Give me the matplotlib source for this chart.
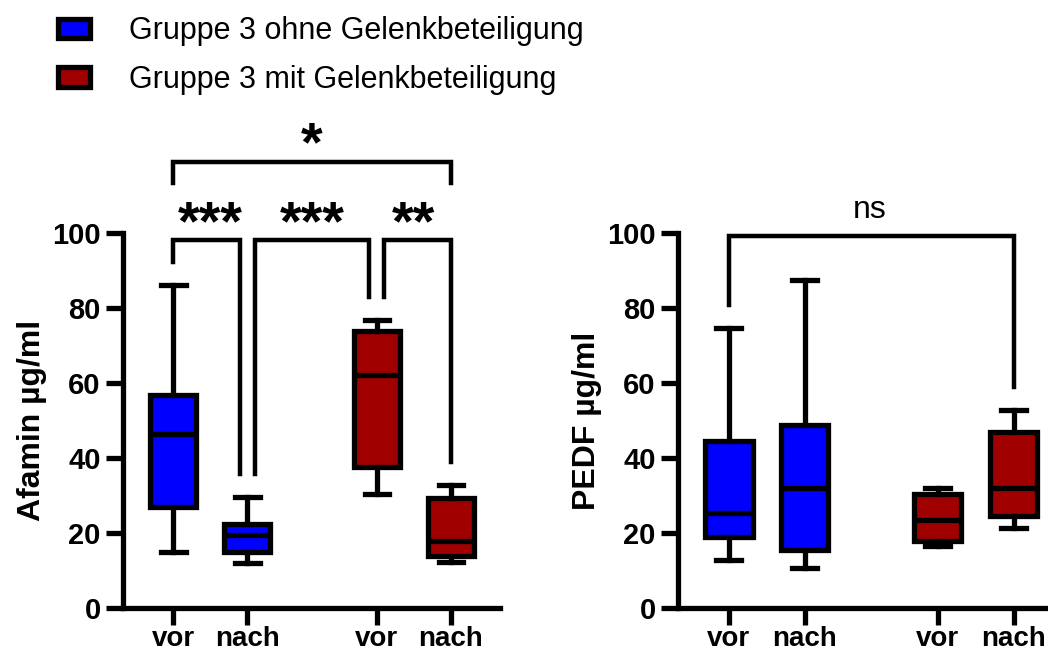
import matplotlib.pyplot as plt
from matplotlib.patches import Patch

plt.rcParams['font.family'] = ['Liberation Sans', 'DejaVu Sans']

# data: whisker low, Q1, median, Q3, whisker high
labels = ['vor', 'nach', 'vor', 'nach']
groups = ['Gruppe 3 ohne Gelenkbeteiligung', 'Gruppe 3 mit Gelenkbeteiligung']
colors = ['#0000ff', '#0000ff', '#a00000', '#a00000']
group_colors = ['#0000ff', '#a00000']

afamin_low = [15.0, 12.0, 30.5, 12.3]
afamin_q1 = [27.0, 15.0, 37.5, 13.9]
afamin_med = [46.3, 19.5, 62.0, 17.8]
afamin_q3 = [56.8, 22.5, 73.8, 29.2]
afamin_high = [86.0, 29.7, 76.8, 32.9]

pedf_low = [12.8, 10.6, 16.4, 21.4]
pedf_q1 = [18.9, 15.5, 17.8, 24.5]
pedf_med = [25.4, 31.9, 23.5, 32.0]
pedf_q3 = [44.5, 48.8, 30.5, 47.0]
pedf_high = [74.7, 87.5, 32.1, 52.9]

pos = [0, 1, 2.75, 3.75]
LW = 3.8


def boxes(ax, low, q1, med, q3, high):
    stats = []
    for i in range(len(low)):
        stats.append(dict(whislo=low[i], q1=q1[i], med=med[i], q3=q3[i], whishi=high[i]))
    bp = ax.bxp(stats, positions=pos, widths=0.62, capwidths=0.33, showfliers=False,
                patch_artist=True,
                boxprops=dict(linewidth=LW, edgecolor='black'),
                medianprops=dict(color='black', linewidth=LW),
                whiskerprops=dict(color='black', linewidth=LW),
                capprops=dict(color='black', linewidth=LW))
    for b, c in zip(bp['boxes'], colors):
        b.set_facecolor(c)
        b.set_joinstyle('miter')


def style(ax, ylabel):
    ax.set_ylim(0, 100)
    ax.set_yticks([0, 20, 40, 60, 80, 100])
    ax.set_xticks(pos)
    ax.set_xticklabels(labels)
    for s in ['top', 'right']:
        ax.spines[s].set_visible(False)
    for s in ['left', 'bottom']:
        ax.spines[s].set_linewidth(LW)
    ax.tick_params(width=LW, length=12, labelsize=21, pad=4)
    ax.tick_params(axis='x', labelsize=20, pad=1)
    for t in ax.get_xticklabels() + ax.get_yticklabels():
        t.set_fontweight('bold')
    ax.set_ylabel(ylabel, fontsize=23, fontweight='bold', labelpad=4)


def bracket(ax, x1, x2, y, y1, y2):
    ax.plot([x1, x1, x2, x2], [y1, y, y, y2], color='black', linewidth=LW * 0.85,
            clip_on=False, solid_joinstyle='miter')


def stars(ax, x, y, s, size=40):
    ax.text(x, y, s, ha='center', va='baseline', fontsize=size, fontweight='bold', clip_on=False)


fig = plt.figure(figsize=(10.48, 6.55), dpi=100)
ax1 = fig.add_axes([0.1174, 0.0718, 0.36, 0.5725])
ax2 = fig.add_axes([0.647, 0.0718, 0.353, 0.5725])

boxes(ax1, afamin_low, afamin_q1, afamin_med, afamin_q3, afamin_high)
style(ax1, 'Afamin µg/ml')
ax1.set_xlim(-0.68, 4.42)

boxes(ax2, pedf_low, pedf_q1, pedf_med, pedf_q3, pedf_high)
style(ax2, 'PEDF µg/ml')
ax2.set_xlim(-0.67, 4.2)

# significance brackets
bracket(ax1, 0, 3.75, 119, 113.4, 113.4)
stars(ax1, 1.875, 119.5, '*')
bracket(ax1, 0, 0.9, 98.1, 92.3, 35.7)
stars(ax1, 0.5, 98.3, '***')
bracket(ax1, 1.1, 2.65, 98.1, 35.7, 83.0)
stars(ax1, 1.875, 98.3, '***')
bracket(ax1, 2.85, 3.75, 98.1, 83.0, 39.0)
stars(ax1, 3.25, 98.3, '**')

bracket(ax2, 0, 3.75, 99.1, 80.7, 58.8)
ax2.text(1.85, 106.0, 'ns', ha='center', va='center', fontsize=23, clip_on=False)

handles = [Patch(facecolor=c, edgecolor='black', linewidth=LW) for c in group_colors]
fig.legend(handles, groups, loc='upper left', bbox_to_anchor=(0.055, 0.975), frameon=False,
           fontsize=22, handlelength=1.05, handleheight=0.6, labelspacing=0.6,
           handletextpad=1.3, borderpad=0, borderaxespad=0)

fig.savefig('out.png', dpi=100)
